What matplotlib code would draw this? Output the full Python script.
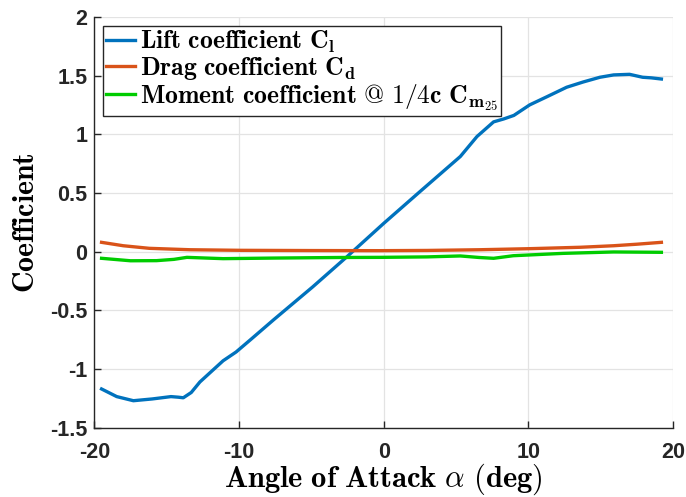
import matplotlib
matplotlib.use("Agg")
import matplotlib.pyplot as plt

# 翼型の空力係数（迎角に対する揚力・抗力・モーメント）
alpha_cl = [-19.5, -18.45, -17.3, -16.0, -14.7, -14.2, -13.85, -13.3, -12.7,
            -11.1, -10.2, -9.2, -7.6, -4.9, -2.55, 0.0, 2.5, 5.3, 6.45, 7.6,
            8.3, 9.0, 10.1, 11.3, 12.65, 13.8, 14.95, 15.9, 17.0, 17.9, 18.5, 19.2]
cl = [-1.17, -1.235, -1.27, -1.255, -1.235, -1.24, -1.245, -1.20, -1.11,
      -0.93, -0.855, -0.75, -0.58, -0.30, -0.045, 0.24, 0.51, 0.81, 0.98, 1.105,
      1.13, 1.16, 1.25, 1.32, 1.40, 1.445, 1.485, 1.505, 1.51, 1.485, 1.48, 1.47]

alpha_cd = [-19.5, -18.0, -16.2, -13.4, -9.9, -5.0, -0.3, 3.0, 6.65, 10.1,
            13.6, 15.9, 17.5, 19.2]
cd = [0.079, 0.05, 0.028, 0.016, 0.011, 0.009, 0.008, 0.01, 0.016, 0.025,
      0.037, 0.05, 0.063, 0.079]

alpha_cm = [-19.5, -17.5, -15.7, -14.5, -13.6, -11.1, -7.6, -3.0, -0.3, 3.0,
            5.3, 6.6, 7.6, 8.96, 12.4, 15.9, 19.2]
cm = [-0.057, -0.078, -0.077, -0.066, -0.049, -0.06, -0.055, -0.05, -0.049,
      -0.045, -0.037, -0.05, -0.057, -0.035, -0.015, -0.003, -0.006]

labels = [r'$\mathbf{Lift\ coefficient\ C_l}$',
          r'$\mathbf{Drag\ coefficient\ C_d}$',
          r'$\mathbf{Moment\ coefficient\ @\ 1/4c\ C_{m_{25}}}$']
colors = ['#0072BD', '#D95319', '#00CC00']

xticks = [-20, -10, 0, 10, 20]
yticks = [-1.5, -1, -0.5, 0, 0.5, 1, 1.5, 2]
yticklabels = ['-1.5', '-1', '-0.5', '0', '0.5', '1', '1.5', '2']

plt.rcParams['mathtext.fontset'] = 'cm'
plt.rcParams['axes.unicode_minus'] = False

fig = plt.figure(figsize=(6.86, 4.97), dpi=100)
ax = fig.add_axes([0.1375, 0.1394, 0.8435, 0.8268])

ax.plot(alpha_cl, cl, color=colors[0], lw=2.4, label=labels[0])
ax.plot(alpha_cd, cd, color=colors[1], lw=2.4, label=labels[1])
ax.plot(alpha_cm, cm, color=colors[2], lw=2.4, label=labels[2])

ax.set_xlim(-20, 20)
ax.set_ylim(-1.5, 2)
ax.set_xticks(xticks)
ax.set_yticks(yticks)
ax.set_yticklabels(yticklabels)
ax.grid(True, color='#e3e3e3', lw=0.9)
ax.set_axisbelow(True)

for side in ['top', 'right']:
    ax.spines[side].set_visible(False)
for side in ['left', 'bottom']:
    ax.spines[side].set_color('#262626')
    ax.spines[side].set_linewidth(1.0)

ax.tick_params(direction='in', length=5, width=1.0, color='#262626')
ax.tick_params(axis='x', pad=10)
ax.tick_params(axis='y', pad=5)
for t in ax.get_xticklabels() + ax.get_yticklabels():
    t.set_fontfamily('Liberation Sans')
    t.set_fontweight('bold')
    t.set_fontsize(15.5)
    t.set_color('#262626')

ax.set_xlabel(r'$\mathbf{Angle\ of\ Attack}\ \alpha\ \mathbf{(deg)}$', fontsize=22, labelpad=-1)
ax.set_ylabel(r'$\mathbf{Coefficient}$', fontsize=21.5, labelpad=7)

leg = ax.legend(loc='upper left', fontsize=18.5, handlelength=1.1, handletextpad=0.2,
                borderpad=0.12, labelspacing=0.0, borderaxespad=0.35,
                fancybox=False, framealpha=1)
leg.get_frame().set_edgecolor('#262626')
leg.get_frame().set_linewidth(1.0)

fig.savefig('out.png', dpi=100)
